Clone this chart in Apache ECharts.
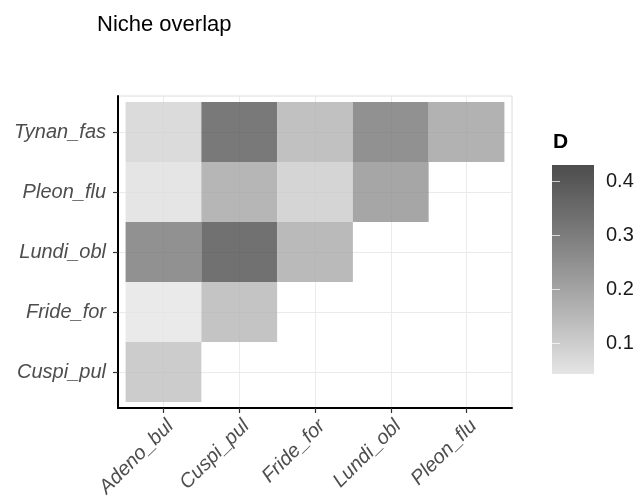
<!DOCTYPE html>
<html>
<head>
<meta charset="utf-8">
<script src="https://cdn.jsdelivr.net/npm/echarts@6/dist/echarts.min.js"></script>
<style>
  html, body { margin: 0; padding: 0; background: #ffffff; }
  #chart { width: 640px; height: 503px; }
</style>
</head>
<body>
<div id="chart"></div>
<script>
// Species on each axis (x: first member of a pair, y: second member)
const speciesX = ['Adeno_bul', 'Cuspi_pul', 'Fride_for', 'Lundi_obl', 'Pleon_flu'];
const speciesY = ['Cuspi_pul', 'Fride_for', 'Lundi_obl', 'Pleon_flu', 'Tynan_fas'];

// Schoener's D for each row, listed in speciesX order
const overlapCuspi = [0.133];
const overlapFride = [0.043, 0.158];
const overlapLundi = [0.317, 0.430, 0.187];
const overlapPleon = [0.056, 0.200, 0.107, 0.250];
const overlapTynan = [0.088, 0.400, 0.168, 0.320, 0.212];

// Colour bar tick labels
const legendTicks = [0.1, 0.2, 0.3, 0.4];

// grey90 -> grey30 ramp
const greyRamp = ['#e5e5e5', '#bcbcbc', '#959595', '#707070', '#4d4d4d'];

const rows = [overlapCuspi, overlapFride, overlapLundi, overlapPleon, overlapTynan];
const cells = [];
rows.forEach(function (vals, yi) {
  vals.forEach(function (v, xi) {
    cells.push([xi + 1, yi + 1, v]);
  });
});
const allVals = cells.map(function (c) { return c[2]; });
const vMin = Math.min.apply(null, allVals);
const vMax = Math.max.apply(null, allVals);
const positions = speciesX.map(function (_, i) { return i + 1; });

const FONT = '"Liberation Sans", Arial, Helvetica, sans-serif';

const chart = echarts.init(document.getElementById('chart'), null, { renderer: 'canvas' });

const option = {
  backgroundColor: '#ffffff',
  animation: false,
  textStyle: { fontFamily: FONT },
  title: [
    {
      text: 'Niche overlap',
      left: 97, top: 14, padding: 0,
      textStyle: { fontFamily: FONT, fontSize: 22, fontWeight: 'normal', color: '#000000' }
    },
    {
      text: 'D',
      left: 553, top: 132, padding: 0,
      textStyle: { fontFamily: FONT, fontSize: 21, fontWeight: 'bold', color: '#000000' }
    }
  ],
  grid: [
    {
      left: 118, right: 128, top: 96, bottom: 95,
      show: true, borderColor: '#dcdcdc', borderWidth: 1, backgroundColor: '#ffffff'
    },
    { left: 552, top: 165, width: 42, height: 209 }
  ],
  visualMap: {
    show: false,
    type: 'continuous',
    seriesIndex: 0,
    dimension: 2,
    min: vMin,
    max: vMax,
    inRange: { color: greyRamp }
  },
  xAxis: [
    {
      type: 'value', gridIndex: 0, min: 0.4, max: 5.6,
      axisLine: { show: true, onZero: false, lineStyle: { color: '#000000', width: 2 } },
      axisTick: { show: true, customValues: positions, length: 5, lineStyle: { color: '#333333', width: 1.2 } },
      axisLabel: {
        customValues: positions,
        formatter: function (v) { return speciesX[Math.round(v) - 1] || ''; },
        rotate: 45, margin: 8, verticalAlign: 'top',
        fontFamily: FONT, fontStyle: 'italic', fontSize: 20, color: '#4d4d4d'
      },
      splitLine: { show: true, lineStyle: { color: '#ebebeb', width: 1 } }
    },
    { type: 'value', gridIndex: 1, min: 0, max: 1, show: false }
  ],
  yAxis: [
    {
      type: 'value', gridIndex: 0, min: 0.4, max: 5.6,
      axisLine: { show: true, onZero: false, lineStyle: { color: '#000000', width: 2 } },
      axisTick: { show: true, customValues: positions, length: 5, lineStyle: { color: '#333333', width: 1.2 } },
      axisLabel: {
        customValues: positions,
        formatter: function (v) { return speciesY[Math.round(v) - 1] || ''; },
        margin: 12,
        fontFamily: FONT, fontStyle: 'italic', fontSize: 20, color: '#4d4d4d'
      },
      splitLine: { show: true, lineStyle: { color: '#ebebeb', width: 1 } }
    },
    {
      type: 'value', gridIndex: 1, min: vMin, max: vMax, position: 'right', z: 10,
      axisLine: { show: false },
      axisTick: { show: true, inside: true, customValues: legendTicks, length: 8,
                  lineStyle: { color: 'rgba(255,255,255,0.7)', width: 1 } },
      axisLabel: {
        customValues: legendTicks, margin: 12,
        formatter: function (v) { return v.toFixed(1); },
        fontFamily: FONT, fontSize: 20, color: '#1a1a1a'
      },
      splitLine: { show: false }
    },
    {
      type: 'value', gridIndex: 1, min: vMin, max: vMax, position: 'left', z: 10,
      axisLine: { show: false },
      axisTick: { show: true, inside: true, customValues: legendTicks, length: 8,
                  lineStyle: { color: 'rgba(255,255,255,0.7)', width: 1 } },
      axisLabel: { show: false },
      splitLine: { show: false }
    }
  ],
  series: [
    {
      name: 'D',
      type: 'custom',
      xAxisIndex: 0, yAxisIndex: 0,
      data: cells,
      renderItem: function (params, api) {
        const x = api.value(0), y = api.value(1);
        const p0 = api.coord([x - 0.5, y + 0.5]);
        const p1 = api.coord([x + 0.5, y - 0.5]);
        return {
          type: 'rect',
          shape: { x: p0[0], y: p0[1], width: p1[0] - p0[0], height: p1[1] - p0[1] },
          style: { fill: api.visual('color'), opacity: 0.8 }
        };
      }
    },
    {
      name: 'colorbar',
      type: 'custom',
      xAxisIndex: 1, yAxisIndex: 1,
      z: 1,
      data: [[0, vMin, vMax]],
      renderItem: function (params, api) {
        const top = api.coord([0, api.value(2)]);
        const bottom = api.coord([1, api.value(1)]);
        const stops = greyRamp.slice().reverse().map(function (c, i, arr) {
          return { offset: i / (arr.length - 1), color: c };
        });
        return {
          type: 'rect',
          shape: { x: top[0], y: top[1], width: bottom[0] - top[0], height: bottom[1] - top[1] },
          style: { fill: new echarts.graphic.LinearGradient(0, 0, 0, 1, stops) }
        };
      }
    }
  ]
};

chart.setOption(option);
</script>
</body>
</html>
